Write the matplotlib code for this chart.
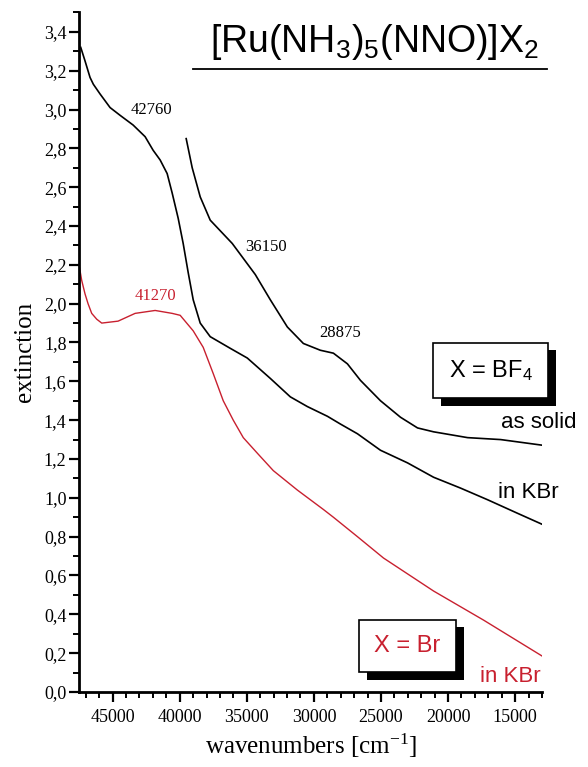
import matplotlib
matplotlib.use("Agg")
import matplotlib.pyplot as plt
import matplotlib.patheffects as pe
from matplotlib.lines import Line2D
from matplotlib.ticker import MultipleLocator, FuncFormatter

# BF4 salt in KBr (black, starts top-left)
wn_kbr = [47373, 47052, 46679, 46433, 45933, 45187, 44440, 43470, 42575, 41978,
          41455, 40933, 40560, 40112, 39739, 39365, 38992, 38470, 37724, 36231,
          34962, 33246, 31754, 30485, 28992, 28022, 26754, 25037, 23022, 21081,
          19067, 17052, 14813, 12873]
ext_kbr = [3.32, 3.25, 3.165, 3.13, 3.08, 3.01, 2.97, 2.92, 2.86, 2.79,
           2.74, 2.67, 2.57, 2.44, 2.31, 2.16, 2.02, 1.90, 1.83, 1.77,
           1.72, 1.615, 1.52, 1.47, 1.42, 1.38, 1.33, 1.245, 1.18, 1.106,
           1.05, 0.99, 0.92, 0.86]

# BF4 salt as solid (black)
wn_solid = [39515, 39067, 38470, 37724, 36082, 34366, 33246, 31978, 30784, 29515,
            28545, 27500, 26530, 25037, 23545, 22276, 21081, 18544, 16082, 12873]
ext_solid = [2.85, 2.70, 2.55, 2.43, 2.31, 2.15, 2.02, 1.88, 1.795, 1.76,
             1.745, 1.69, 1.605, 1.50, 1.415, 1.36, 1.34, 1.31, 1.30, 1.27]

# Br salt in KBr (red)
wn_br = [47500, 47301, 47052, 46828, 46555, 46182, 45808, 44590, 43321, 41828,
         40560, 39962, 38992, 38246, 37500, 36754, 36007, 35261, 34216, 33022,
         31231, 29291, 28545, 26754, 24813, 21081, 17351, 12873]
ext_br = [2.20, 2.12, 2.05, 2.00, 1.95, 1.92, 1.90, 1.91, 1.95, 1.965,
          1.95, 1.94, 1.86, 1.775, 1.64, 1.50, 1.40, 1.31, 1.23, 1.14,
          1.04, 0.94, 0.90, 0.80, 0.69, 0.52, 0.37, 0.18]

peak_labels = ["42760", "36150", "28875"]
peak_pos = [(42130, 3.00), (33540, 2.29), (28020, 1.85)]
red_label = "41270"
red_pos = (41830, 2.04)

RED = "#c8202f"
serif = "Liberation Serif"
sans = "Liberation Sans"

fig = plt.figure(figsize=(5.88, 7.67), dpi=100)
ax = fig.add_axes([0.1344, 0.0978, 0.7874, 0.886])

ax.plot(wn_kbr, ext_kbr, color="black", lw=1.2)
ax.plot(wn_solid, ext_solid, color="black", lw=1.2)
ax.plot(wn_br, ext_br, color=RED, lw=1.0)

ax.set_xlim(47500, 13000)
ax.set_ylim(0, 3.5)

ax.spines["top"].set_visible(False)
ax.spines["right"].set_visible(False)
for s in ["left", "bottom"]:
    ax.spines[s].set_linewidth(2)

ax.xaxis.set_major_locator(MultipleLocator(5000))
ax.xaxis.set_minor_locator(MultipleLocator(1000))
ax.yaxis.set_major_locator(MultipleLocator(0.2))
ax.yaxis.set_minor_locator(MultipleLocator(0.1))
ax.yaxis.set_major_formatter(FuncFormatter(lambda v, p: f"{v:.1f}".replace(".", ",")))
ax.xaxis.set_major_formatter(FuncFormatter(lambda v, p: f"{v:.0f}"))
ax.tick_params(which="major", direction="out", length=7.5, width=1.6)
ax.tick_params(which="minor", direction="out", length=4, width=1.4)
ax.tick_params(axis="y", pad=1.5)
ax.tick_params(axis="x", pad=5)
for lab in ax.get_xticklabels() + ax.get_yticklabels():
    lab.set_fontfamily(serif)
    lab.set_fontsize(13)

ax.set_xlabel(r"wavenumbers [cm$\mathregular{^{-1}}$]", family=serif, fontsize=18, labelpad=4)
ax.set_ylabel("extinction", family=serif, fontsize=18, labelpad=6)

for txt, (x, y) in zip(peak_labels, peak_pos):
    ax.text(x, y, txt, family=serif, fontsize=12, ha="center", va="center")
ax.text(red_pos[0], red_pos[1], red_label, family=serif, fontsize=12,
        ha="center", va="center", color=RED)

# title with underline
fig.text(375 / 588, 1 - 42 / 767, r"$\mathregular{[Ru(NH_3)_5(NNO)]X_2}$",
         family=sans, fontsize=27, ha="center", va="center")
fig.add_artist(Line2D([193 / 588, 547 / 588], [1 - 69 / 767, 1 - 69 / 767],
                      color="black", lw=1.3))

shadow = [pe.withSimplePatchShadow(offset=(5.5, -5.5), shadow_rgbFace="black", alpha=1)]

t1 = ax.text(16830, 1.656, r"X = BF$\mathregular{_4}$", family=sans, fontsize=17,
             ha="center", va="center",
             bbox=dict(boxstyle="square,pad=0.65", fc="white", ec="black", lw=1.2))
t1.get_bbox_patch().set_path_effects(shadow)

t2 = ax.text(23020, 0.237, "X = Br", family=sans, fontsize=17, color=RED,
             ha="center", va="center",
             bbox=dict(boxstyle="square,pad=0.65", fc="white", ec="black", lw=1.2))
t2.get_bbox_patch().set_path_effects(shadow)

ax.text(16080, 1.39, "as solid", family=sans, fontsize=16, ha="left", va="center")
ax.text(16300, 1.03, "in KBr", family=sans, fontsize=16, ha="left", va="center")
ax.text(17650, 0.08, "in KBr", family=sans, fontsize=16, ha="left", va="center", color=RED)

fig.savefig("out.png", dpi=100)
